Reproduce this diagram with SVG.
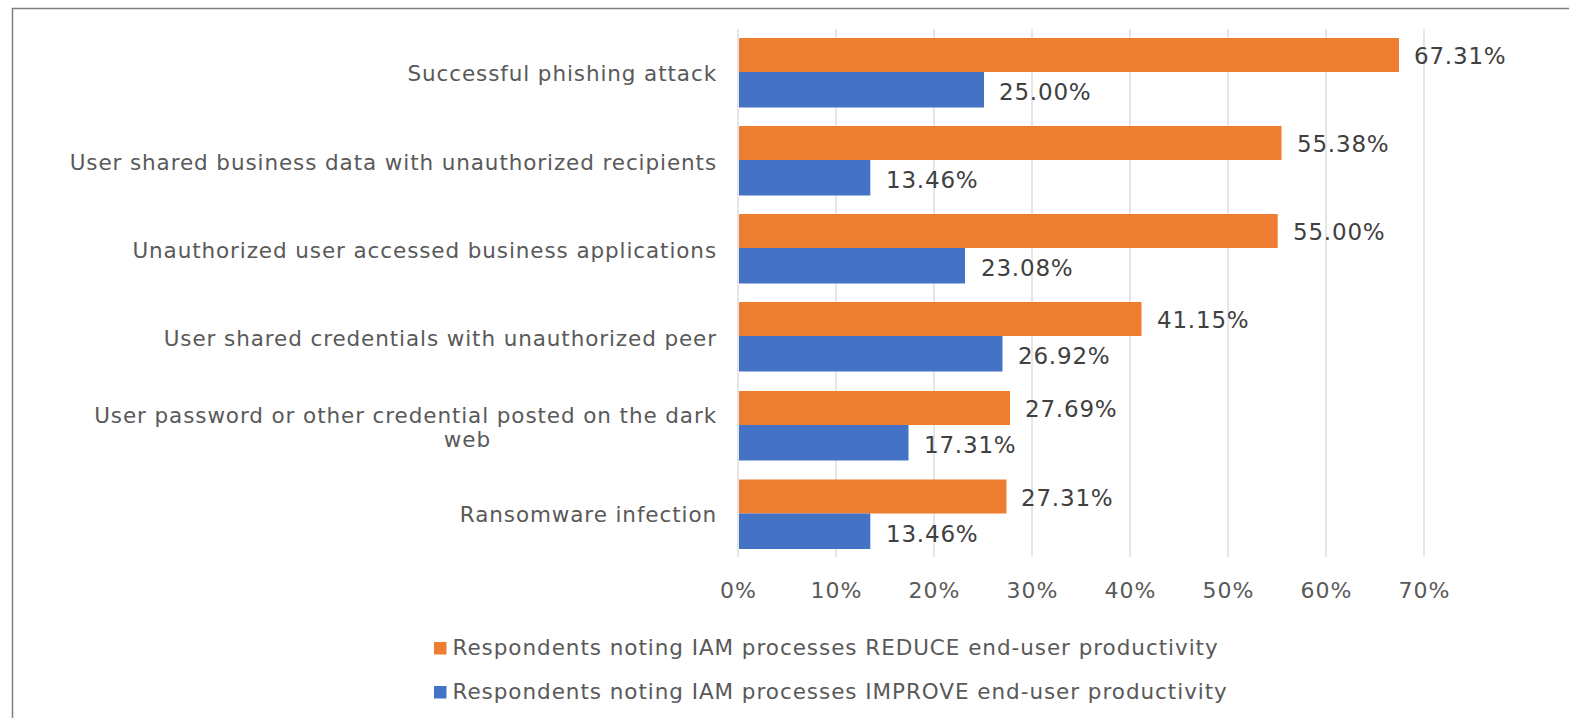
<svg xmlns="http://www.w3.org/2000/svg" width="1569" height="718" viewBox="0 0 1569 718">
<style>
.grid{stroke:#D9D9D9;stroke-width:1.3}
.o{fill:#ED7D31}
.b{fill:#4472C4}
.cat{font-family:"DejaVu Sans",Verdana,sans-serif;font-size:21.5px;fill:#595959;text-anchor:end;letter-spacing:0.9px}
.val{font-family:"DejaVu Sans",Verdana,sans-serif;font-size:23px;fill:#404040;letter-spacing:0.8px}
.ax{font-family:"DejaVu Sans",Verdana,sans-serif;font-size:22px;fill:#595959;text-anchor:middle;letter-spacing:1px}
.leg{font-family:"DejaVu Sans",Verdana,sans-serif;font-size:21.5px;fill:#595959;letter-spacing:0.95px}
</style>
<rect width="1569" height="718" fill="#FFFFFF"/>
<path d="M12.5 730 V8.5 H1580" fill="none" stroke="#7F7F7F" stroke-width="1.5"/>
<g id="gridlines">
<line class="grid" x1="738" y1="29" x2="738" y2="557"/>
<line class="grid" x1="836" y1="29" x2="836" y2="557"/>
<line class="grid" x1="934" y1="29" x2="934" y2="557"/>
<line class="grid" x1="1032" y1="29" x2="1032" y2="557"/>
<line class="grid" x1="1130" y1="29" x2="1130" y2="557"/>
<line class="grid" x1="1228" y1="29" x2="1228" y2="557"/>
<line class="grid" x1="1326" y1="29" x2="1326" y2="557"/>
<line class="grid" x1="1424" y1="29" x2="1424" y2="557"/>
</g>
<g id="axis-labels">
<text class="ax" x="738.5" y="598">0%</text>
<text class="ax" x="836.5" y="598">10%</text>
<text class="ax" x="934.5" y="598">20%</text>
<text class="ax" x="1032.5" y="598">30%</text>
<text class="ax" x="1130.5" y="598">40%</text>
<text class="ax" x="1228.5" y="598">50%</text>
<text class="ax" x="1326.5" y="598">60%</text>
<text class="ax" x="1424.5" y="598">70%</text>
</g>
<g id="cat1">
<text class="cat" x="717" y="81">Successful phishing attack</text>
<rect class="o" x="739" y="38" width="660" height="34"/>
<rect class="b" x="739" y="72" width="245" height="35.5"/>
<text class="val" x="1414" y="64">67.31%</text>
<text class="val" x="999" y="100">25.00%</text>
</g>
<g id="cat2">
<text class="cat" x="717" y="170">User shared business data with unauthorized recipients</text>
<rect class="o" x="739" y="126" width="542.5" height="34"/>
<rect class="b" x="739" y="160" width="131.3" height="35.5"/>
<text class="val" x="1297" y="152">55.38%</text>
<text class="val" x="886" y="188">13.46%</text>
</g>
<g id="cat3">
<text class="cat" x="717" y="258">Unauthorized user accessed business applications</text>
<rect class="o" x="739" y="214" width="538.7" height="34"/>
<rect class="b" x="739" y="248" width="226" height="35.5"/>
<text class="val" x="1293" y="240">55.00%</text>
<text class="val" x="981" y="276">23.08%</text>
</g>
<g id="cat4">
<text class="cat" x="717" y="346">User shared credentials with unauthorized peer</text>
<rect class="o" x="739" y="302" width="402.5" height="34"/>
<rect class="b" x="739" y="336" width="263.5" height="35.5"/>
<text class="val" x="1157" y="328">41.15%</text>
<text class="val" x="1018" y="364">26.92%</text>
</g>
<g id="cat5">
<text class="cat" x="717" y="423">User password or other credential posted on the dark</text>
<text class="cat" x="491" y="446.5">web</text>
<rect class="o" x="739" y="391" width="271" height="34"/>
<rect class="b" x="739" y="425" width="169.5" height="35.5"/>
<text class="val" x="1025" y="417">27.69%</text>
<text class="val" x="924" y="453">17.31%</text>
</g>
<g id="cat6">
<text class="cat" x="717" y="522">Ransomware infection</text>
<rect class="o" x="739" y="479.5" width="267.5" height="34"/>
<rect class="b" x="739" y="513.5" width="131.3" height="35.5"/>
<text class="val" x="1021" y="505.5">27.31%</text>
<text class="val" x="886" y="541.5">13.46%</text>
</g>
<g id="legend">
<rect class="o" x="434" y="642" width="12.5" height="12.5"/>
<text class="leg" x="452.5" y="654.5">Respondents noting IAM processes REDUCE end-user productivity</text>
<rect class="b" x="434" y="686" width="12.5" height="12.5"/>
<text class="leg" x="452.5" y="698.5">Respondents noting IAM processes IMPROVE end-user productivity</text>
</g>
</svg>
